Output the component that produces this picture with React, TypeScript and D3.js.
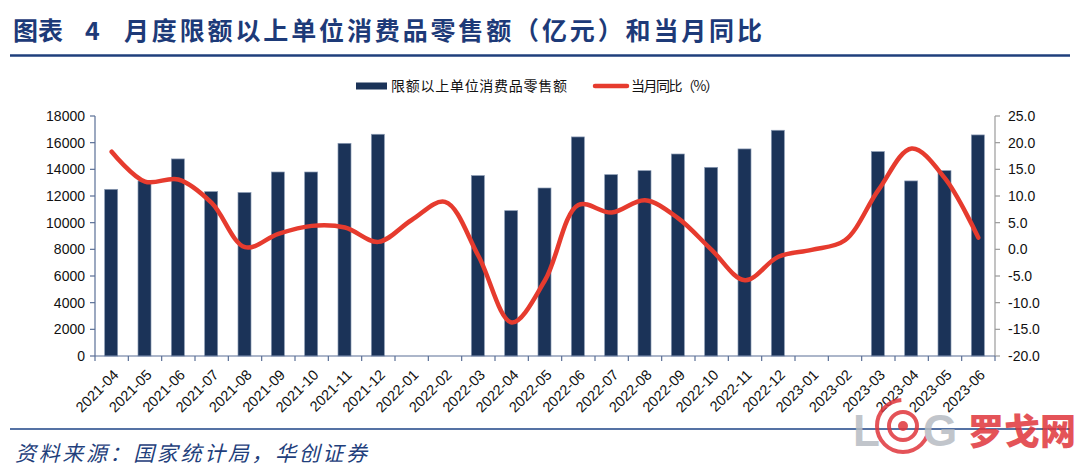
import React from 'react';
import * as d3 from 'd3';

const months = ['2021-04','2021-05','2021-06','2021-07','2021-08','2021-09','2021-10','2021-11','2021-12','2022-01','2022-02','2022-03','2022-04','2022-05','2022-06','2022-07','2022-08','2022-09','2022-10','2022-11','2022-12','2023-01','2023-02','2023-03','2023-04','2023-05','2023-06'];
const sales: (number | null)[] = [12500, 13130, 14780, 12330, 12260, 13800, 13800, 15950, 16630, null, null, 13530, 10900, 12600, 16430, 13600, 13900, 15150, 14150, 15530, 16930, null, null, 15330, 13130, 13900, 16580];
const yoy = [18.3, 12.7, 13.1, 8.7, 0.4, 2.9, 4.4, 4.1, 1.4, 5.5, 8.9, -1.2, -13.7, -5.8, 8.3, 6.9, 9.2, 5.8, -0.1, -5.8, -1.4, -0.1, 1.7, 11.1, 18.9, 13.3, 2.2];
const leftTicks = [0, 2000, 4000, 6000, 8000, 10000, 12000, 14000, 16000, 18000];
const rightTicks = [-20, -15, -10, -5, 0, 5, 10, 15, 20, 25];

const title1 = '图表';
const title2 = '4';
const title3 = '月度限额以上单位消费品零售额（亿元）和当月同比';
const legend1 = '限额以上单位消费品零售额';
const legend2 = '当月同比（%）';
const source = '资料来源：国家统计局，华创证券';

export default function App() {
  const W = 1080, H = 472;
  const left = 95, right = 995, top = 116, bottom = 356;
  const x = d3.scaleBand<string>().domain(months).range([left, right]).paddingInner(0).paddingOuter(0);
  const yL = d3.scaleLinear().domain([0, 18000]).range([bottom, top]);
  const yR = d3.scaleLinear().domain([-20, 25]).range([bottom, top]);
  const bw = 13;
  const line = d3.line<number>()
    .x((_, i) => (x(months[i]) as number) + x.bandwidth() / 2)
    .y(d => yR(d))
    .curve(d3.curveCatmullRom.alpha(0.5));
  const boundaries = d3.range(months.length + 1).map(i => left + i * x.bandwidth());
  const titleColor = '#1d3a78';
  const cjk = '"Noto Sans CJK SC", sans-serif';
  const num = '"Liberation Sans", Arial, sans-serif';

  return (
    <svg width={W} height={H} style={{ position: 'absolute', left: 0, top: 0, background: '#fff' }}>
      {/* Title */}
      <text x={13} y={40} fontFamily={cjk} fontWeight={700} fontSize={25} fill={titleColor}>{title1}</text>
      <text x={85} y={40} fontFamily={cjk} fontWeight={700} fontSize={25} fill={titleColor}>{title2}</text>
      <text x={124} y={40} fontFamily={cjk} fontWeight={700} fontSize={25} fill={titleColor} textLength={638} lengthAdjust="spacing">{title3}</text>
      <line x1={10} x2={1070} y1={55.5} y2={55.5} stroke="#1f3f7c" strokeWidth={2.5} />

      {/* Legend */}
      <rect x={356} y={82.5} width={31} height={7} fill="#1b3358" />
      <text x={391} y={90.5} fontFamily={cjk} fontSize={14} fill="#111" textLength={176} lengthAdjust="spacing">{legend1}</text>
      <line x1={595} x2={627} y1={86} y2={86} stroke="#e63b2e" strokeWidth={4.5} strokeLinecap="round" />
      <text x={631} y={90.5} fontFamily={cjk} fontSize={14} fill="#111" textLength={88} lengthAdjust="spacing">{legend2}</text>

      {/* Bars */}
      {months.map((m, i) => {
        const v = sales[i];
        if (v == null) return null;
        const cx = (x(m) as number) + x.bandwidth() / 2;
        return <rect key={m} x={cx - bw / 2 - 0.5} y={yL(v)} width={bw} height={bottom - yL(v)} fill="#1b3358" stroke="#8a9ab3" strokeWidth={0.7} />;
      })}

      {/* Line */}
      <path d={line(yoy) || ''} fill="none" stroke="#e63b2e" strokeWidth={4.5} strokeLinecap="round" strokeLinejoin="round" />

      {/* Left axis */}
      <line x1={left} x2={left} y1={top} y2={bottom} stroke="#5a6f96" strokeWidth={1.2} />
      {leftTicks.map(t => (
        <g key={t}>
          <line x1={left - 5} x2={left} y1={yL(t)} y2={yL(t)} stroke="#5a6f96" strokeWidth={1.2} />
          <text x={85} y={yL(t)} dy="0.36em" textAnchor="end" fontFamily={num} fontSize={14} fill="#111">{t}</text>
        </g>
      ))}

      {/* Right axis */}
      <line x1={right} x2={right} y1={top} y2={bottom} stroke="#9a9a9a" strokeWidth={1.2} />
      {rightTicks.map(t => (
        <g key={t}>
          <line x1={right} x2={right + 5} y1={yR(t)} y2={yR(t)} stroke="#9a9a9a" strokeWidth={1.2} />
          <text x={1008} y={yR(t)} dy="0.36em" textAnchor="start" fontFamily={num} fontSize={14} fill="#111">{t.toFixed(1)}</text>
        </g>
      ))}

      {/* X axis */}
      <line x1={left} x2={right} y1={bottom} y2={bottom} stroke="#5a6f96" strokeWidth={1.2} />
      {boundaries.map((b, i) => (
        <line key={i} x1={b} x2={b} y1={bottom} y2={bottom + 5} stroke="#5a6f96" strokeWidth={1.2} />
      ))}
      {months.map(m => {
        const cx = (x(m) as number) + x.bandwidth() / 2;
        return (
          <text key={m} transform={`translate(${cx + 4},${bottom + 16}) rotate(-45)`} textAnchor="end" dy="0.36em" fontFamily={num} fontSize={14.5} fill="#111">{m}</text>
        );
      })}

      {/* Bottom separator */}
      <line x1={10} x2={1070} y1={429} y2={429} stroke="#5572a4" strokeWidth={2} />

      {/* Source */}
      <text x={15} y={461} fontFamily={cjk} fontStyle="italic" fontSize={21} fill="#1f3f7c" textLength={352} lengthAdjust="spacing">{source}</text>

      {/* Watermark */}
      <g opacity={0.85}>
        <text x={853} y={446} fontFamily={num} fontWeight={700} fontSize={44} fill="#b7bcc2">L</text>
        <circle cx={903} cy={426} r={26} fill="none" stroke="#e0363c" strokeWidth={4} strokeDasharray="120 44" />
        <circle cx={903} cy={426} r={14} fill="none" stroke="#e0363c" strokeWidth={4} />
        <circle cx={903} cy={426} r={5} fill="#e0363c" />
        <text x={923} y={446} fontFamily={num} fontWeight={700} fontSize={44} fill="#b7bcc2">G</text>
        <text x={968} y={445} fontFamily={cjk} fontWeight={900} fontSize={36} fill="#e0363c">罗戈网</text>
      </g>
    </svg>
  );
}
